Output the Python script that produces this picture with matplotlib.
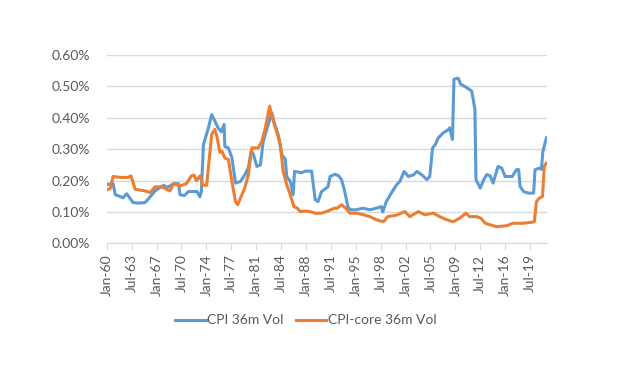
import matplotlib
matplotlib.use("Agg")
import matplotlib.pyplot as plt
from matplotlib.ticker import FuncFormatter

plt.rcParams['font.family'] = ['Lato', 'DejaVu Sans']

# values (decimal year, vol in %)
cpi_years = [1960.0, 1960.9, 1961.2, 1961.8, 1962.3, 1962.8, 1963.7, 1964.5, 1965.4, 1966.1,
             1966.8, 1968.0, 1968.5, 1969.4, 1970.1, 1970.3, 1970.9, 1971.5, 1972.7, 1973.1,
             1973.3, 1973.6, 1974.3, 1974.75, 1975.2, 1975.6, 1976.1, 1976.5, 1976.6, 1977.1,
             1977.6, 1978.1, 1978.8, 1979.4, 1979.9, 1980.3, 1980.6, 1981.1, 1981.6, 1982.0,
             1982.7, 1983.2, 1983.6, 1984.1, 1984.6, 1985.1, 1985.3, 1985.8, 1986.2, 1986.4,
             1987.4, 1987.9, 1988.8, 1989.3, 1989.7, 1990.2, 1991.1, 1991.4, 1992.1, 1992.6,
             1993.0, 1993.4, 1993.95, 1994.4, 1995.1, 1996.0, 1997.0, 1997.9, 1998.6, 1998.8,
             1999.3, 2000.0, 2000.75, 2001.2, 2001.8, 2002.4, 2003.1, 2003.6, 2004.3, 2005.0,
             2005.4, 2005.8, 2006.2, 2006.6, 2007.3, 2008.0, 2008.2, 2008.6, 2008.8, 2009.4,
             2009.75, 2010.6, 2011.3, 2011.5, 2011.75, 2011.9, 2012.5, 2013.0, 2013.4, 2013.9,
             2014.3, 2015.0, 2015.5, 2016.0, 2017.0, 2017.6, 2017.9, 2018.1, 2018.6, 2019.25,
             2020.0, 2020.2, 2020.9, 2021.1, 2021.3, 2021.8]
cpi_vol = [0.187, 0.19, 0.155, 0.15, 0.145, 0.158, 0.13, 0.128, 0.13, 0.148,
           0.167, 0.185, 0.178, 0.19, 0.19, 0.155, 0.152, 0.165, 0.165, 0.148,
           0.165, 0.315, 0.368, 0.41, 0.39, 0.37, 0.355, 0.379, 0.309, 0.304,
           0.272, 0.192, 0.197, 0.218, 0.24, 0.293, 0.285, 0.245, 0.25, 0.325,
           0.378, 0.416, 0.38, 0.347, 0.283, 0.268, 0.213, 0.197, 0.155, 0.229,
           0.225, 0.23, 0.23, 0.139, 0.133, 0.165, 0.18, 0.213, 0.22, 0.215,
           0.203, 0.17, 0.112, 0.107, 0.107, 0.112, 0.107, 0.112, 0.117, 0.10,
           0.133, 0.16, 0.187, 0.197, 0.229, 0.213, 0.218, 0.229, 0.218, 0.203,
           0.213, 0.304, 0.315, 0.336, 0.352, 0.362, 0.368, 0.331, 0.523, 0.526,
           0.507, 0.496, 0.485, 0.46, 0.427, 0.203, 0.176, 0.203, 0.219, 0.215,
           0.192, 0.245, 0.24, 0.213, 0.213, 0.235, 0.235, 0.181, 0.165, 0.16,
           0.16, 0.235, 0.24, 0.235, 0.293, 0.336]

core_years = [1960.0, 1960.5, 1960.9, 1961.9, 1963.0, 1963.4, 1964.0, 1965.2, 1966.1, 1966.8,
              1967.7, 1968.9, 1969.4, 1970.3, 1971.2, 1971.9, 1972.3, 1972.6, 1973.1, 1973.5,
              1974.05, 1974.75, 1975.2, 1975.5, 1975.9, 1976.2, 1976.6, 1977.1, 1977.6, 1978.1,
              1978.4, 1979.0, 1979.4, 1979.9, 1980.4, 1981.3, 1981.8, 1982.3, 1982.9, 1983.2,
              1983.7, 1984.4, 1984.8, 1985.3, 1985.8, 1986.3, 1986.8, 1987.2, 1987.9, 1988.6,
              1989.3, 1990.2, 1991.1, 1992.0, 1992.4, 1993.0, 1993.6, 1994.2, 1995.1, 1996.1,
              1997.0, 1997.9, 1998.9, 1999.5, 2000.75, 2001.9, 2002.6, 2003.8, 2004.7, 2005.9,
              2006.8, 2007.8, 2008.7, 2009.6, 2010.5, 2011.0, 2012.0, 2012.6, 2013.2, 2013.9,
              2014.8, 2016.2, 2017.1, 2018.5, 2019.7, 2020.1, 2020.4, 2020.8, 2021.25, 2021.5,
              2021.8]
core_vol = [0.17, 0.175, 0.213, 0.21, 0.21, 0.215, 0.172, 0.168, 0.162, 0.18,
            0.18, 0.167, 0.19, 0.183, 0.19, 0.215, 0.217, 0.2, 0.215, 0.185,
            0.185, 0.347, 0.363, 0.34, 0.29, 0.293, 0.272, 0.267, 0.197, 0.133,
            0.123, 0.155, 0.176, 0.218, 0.304, 0.304, 0.325, 0.368, 0.437, 0.405,
            0.37, 0.315, 0.229, 0.187, 0.155, 0.117, 0.112, 0.101, 0.103, 0.101,
            0.096, 0.096, 0.103, 0.112, 0.112, 0.123, 0.112, 0.096, 0.096, 0.091,
            0.085, 0.075, 0.069, 0.085, 0.09, 0.101, 0.085, 0.101, 0.091, 0.096,
            0.085, 0.075, 0.069, 0.08, 0.096, 0.085, 0.085, 0.08, 0.064, 0.059,
            0.053, 0.056, 0.064, 0.064, 0.067, 0.069, 0.133, 0.144, 0.149, 0.245,
            0.256]

tick_labels = ["Jan-60", "Jul-63", "Jan-67", "Jul-70", "Jan-74", "Jul-77", "Jan-81", "Jul-84",
               "Jan-88", "Jul-91", "Jan-95", "Jul-98", "Jan-02", "Jul-05", "Jan-09", "Jul-12",
               "Jan-16", "Jul-19"]


def to_month(years):
    return [(y - 1960.0) * 12 for y in years]


fig = plt.figure(figsize=(6.24, 3.82), dpi=100)
ax = fig.add_axes([0.171, 0.363, 0.706, 0.493])

blue = "#5B9BD5"
orange = "#ED7D31"
ax.plot(to_month(cpi_years), cpi_vol, color=blue, lw=2.2, label="CPI 36m Vol", zorder=3)
ax.plot(to_month(core_years), core_vol, color=orange, lw=2.2, label="CPI-core 36m Vol", zorder=4)

ax.set_ylim(0, 0.6)
ax.set_yticks([0, 0.1, 0.2, 0.3, 0.4, 0.5, 0.6])
ax.yaxis.set_major_formatter(FuncFormatter(lambda v, p: f"{v:.2f}%"))
ax.set_xlim(0, 743)
ax.set_xticks([i * 42 for i in range(len(tick_labels))])
ax.set_xticklabels(tick_labels, rotation=90)

ax.grid(axis="y", color="#d9d9d9", lw=1)
ax.set_axisbelow(True)
for s in ["top", "right", "left"]:
    ax.spines[s].set_visible(False)
ax.spines["bottom"].set_color("#d9d9d9")
ax.tick_params(axis="y", length=0, labelsize=10, labelcolor="#595959", pad=12)
ax.tick_params(axis="x", length=5, color="#d9d9d9", labelsize=10, labelcolor="#595959", pad=3)

fig.legend(loc="center", bbox_to_anchor=(0.49, 0.161), ncol=2, frameon=False,
           fontsize=10, labelcolor="#595959", handlelength=2.2, handletextpad=0.1,
           columnspacing=0.9)

fig.savefig("out.png", dpi=100)
